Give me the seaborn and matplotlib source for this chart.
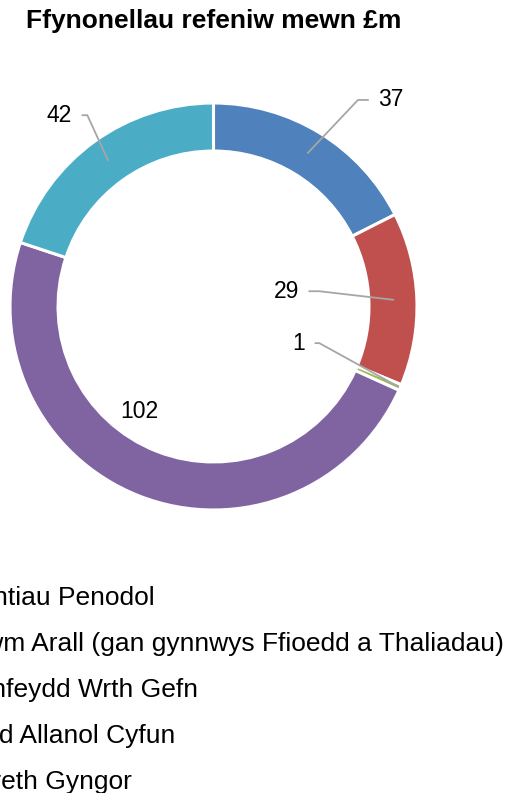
import numpy as np
import matplotlib
matplotlib.use("Agg")
import matplotlib.pyplot as plt
import seaborn as sns

# data
categories = ["Grantiau Penodol",
              "Incwm Arall (gan gynnwys Ffioedd a Thaliadau)",
              "Cronfeydd Wrth Gefn",
              "Cyllid Allanol Cyfun",
              "Y Dreth Gyngor"]
values = [37, 29, 1, 102, 42]
colors = ["#4f81bd", "#c0504d", "#9bbb59", "#8064a2", "#4bacc6"]

sns.set_theme(style="white")
plt.rcParams['font.family'] = ['Liberation Sans', 'DejaVu Sans']

W, H = 511, 793
fig = plt.figure(figsize=(W / 100, H / 100), dpi=100)

# pie axes: centre (213.5, 306.5) px, radius 203.5 px
cx, cy, R = 213.5, 306.5, 203.5
ax = fig.add_axes([(cx - R) / W, (H - cy - R) / H, 2 * R / W, 2 * R / H])
wedges, _ = ax.pie(values, colors=colors, startangle=90, counterclock=False,
                   radius=1, wedgeprops=dict(width=0.236, edgecolor="white", linewidth=2.2))
ax.set_xlim(-1, 1)
ax.set_ylim(-1, 1)
ax.set_aspect("equal")
ax.axis("off")

# labels: (text x, text y, elbow x, anchor radius, ha) -- layout only
label_layout = [
    (0.81, 1.015, 0.71, 0.885, "left"),
    (0.42, 0.075, 0.52, 0.885, "right"),
    (0.45, -0.18, 0.52, 0.99, "right"),
    (None, None, None, None, None),
    (-0.695, 0.94, -0.62, 0.885, "right"),
]
total = sum(values)
cum = 0
for v, lay in zip(values, label_layout):
    mid = (cum + v / 2) / total * 2 * np.pi
    cum += v
    tx, ty, ex, ar, ha = lay
    if tx is None:
        ax.text(-0.366, -0.515, str(v), ha="center", va="center", fontsize=16.5, color="black")
        continue
    axx, ayy = ar * np.sin(mid), ar * np.cos(mid)
    gap = 0.05 if ha == "left" else -0.05
    ax.plot([axx, ex, tx - gap], [ayy, ty, ty], color="#a6a6a6", lw=1.3, clip_on=False)
    ax.text(tx, ty, str(v), ha=ha, va="center", fontsize=16.5, color="black")

fig.text(cx / W, 1 - 21 / H, "Ffynonellau refeniw mewn £m", ha="center", va="center",
         fontsize=19, fontweight="bold", color="black")

fig.legend(wedges, categories, loc="upper left", bbox_to_anchor=(-83 / W, 1 - 586 / H),
           frameon=False, fontsize=19, borderpad=0, handlelength=0.7, handletextpad=0.5,
           labelspacing=0.83, borderaxespad=0, labelcolor="black")

fig.savefig("out.png", dpi=100)
